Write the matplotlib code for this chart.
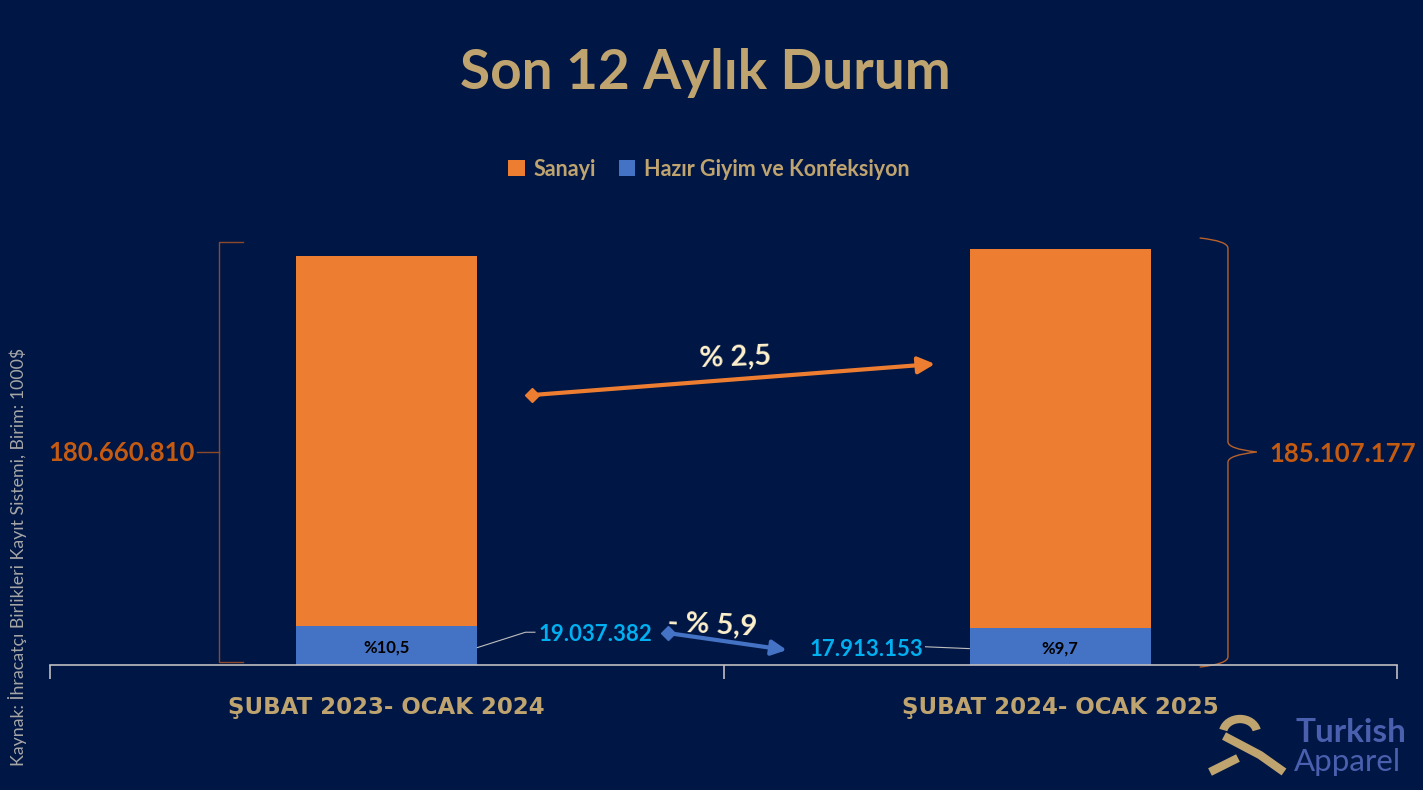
import matplotlib.pyplot as plt
from matplotlib.path import Path
from matplotlib.patches import PathPatch, Arc
import numpy as np

# data (1000 $)
periods = ['ŞUBAT 2023- OCAK 2024', 'ŞUBAT 2024- OCAK 2025']
sanayi = [180660810, 185107177]
hazir_giyim = [19037382, 17913153]
pay_labels = ['%10,5', '%9,7']
sanayi_labels = ['180.660.810', '185.107.177']
hazir_labels = ['19.037.382', '17.913.153']
change_labels = ['% 2,5', '- % 5,9']

BG = '#001645'
GOLD = '#BFA46F'
ORANGE = '#ED7D31'
BLUE = '#4472C4'
plt.rcParams['font.family'] = ['Lato', 'DejaVu Sans']

fig = plt.figure(figsize=(14.23, 7.9), dpi=100, facecolor=BG)
ax = fig.add_axes([50 / 1423, 125 / 790, 1347 / 1423, 450.6 / 790])
ax.set_facecolor(BG)

x = np.arange(len(periods))
M = 1e6
hg = np.array(hazir_giyim) / M
sn = np.array(sanayi) / M
ax.bar(x, hg, width=0.269, color=BLUE, label='Hazır Giyim ve Konfeksiyon', zorder=2)
ax.bar(x, sn, width=0.269, bottom=hg, color=ORANGE, label='Sanayi', zorder=2)
ax.set_xlim(-0.5, 1.5)
ax.set_ylim(0, 220)

for s in ['top', 'right', 'left']:
    ax.spines[s].set_visible(False)
ax.spines['bottom'].set_color('#BFBFBF')
ax.spines['bottom'].set_linewidth(1.2)
ax.set_yticks([])
ax.set_xticks(x)
ax.set_xticklabels(periods, color=GOLD, fontsize=16.5, fontweight='bold', family='DejaVu Sans')
ax.tick_params(axis='x', length=0, pad=22)
ax.set_xticks([-0.5, 0.5, 1.5], minor=True)
ax.tick_params(axis='x', which='minor', length=10, color='#BFBFBF', width=1.2)

# percent share inside blue segment
for i in x:
    ax.text(i, hg[i] / 2 - 1, pay_labels[i], ha='center', va='center',
            fontsize=12, fontweight='bold', color='black', zorder=3)

# left bracket for first total
lc = '#8C4A2A'
ax.plot([-0.2134, -0.249, -0.249, -0.2134], [206.5, 206.5, 1.5, 1.5], color=lc, lw=1, clip_on=False)
ax.plot([-0.282, -0.249], [104, 104], color=lc, lw=1, clip_on=False)
ax.text(-0.285, 103.5, sanayi_labels[0], ha='right', va='center', color='#C55A11',
        fontsize=18.5, fontweight='bold', clip_on=False)

# right curly brace for second total
bx, top, bot, mid = 1.249, 208.5, -1.0, 104
verts = [(1.207, top), (bx, top - 1.5), (bx, top - 5), (bx, mid + 5), (bx, mid + 1.5), (1.292, mid),
         (bx, mid - 1.5), (bx, mid - 5), (bx, bot + 5), (bx, bot + 1.5), (1.207, bot)]
codes = [Path.MOVETO, Path.CURVE3, Path.CURVE3, Path.LINETO, Path.CURVE3, Path.CURVE3,
         Path.CURVE3, Path.CURVE3, Path.LINETO, Path.CURVE3, Path.CURVE3]
ax.add_patch(PathPatch(Path(verts, codes), fill=False, edgecolor='#B8612A', lw=1, clip_on=False))
ax.text(1.311, 103, sanayi_labels[1], ha='left', va='center', color='#C55A11',
        fontsize=18.5, fontweight='bold', clip_on=False)

# apparel value labels with leader lines
ax.plot([0.1345, 0.206, 0.22], [8.5, 16.0, 16.0], color='#BFBFBF', lw=0.8)
ax.text(0.2257, 15.0, hazir_labels[0], ha='left', va='center', color='#00B0F0',
        fontsize=16, fontweight='bold')
ax.plot([0.8, 0.865], [8.9, 8.0], color='#BFBFBF', lw=0.8)
ax.text(0.796, 7.5, hazir_labels[1], ha='right', va='center', color='#00B0F0',
        fontsize=16, fontweight='bold')

# change arrows
ax.annotate('', xy=(0.814, 147), xytext=(0.2157, 131.8),
            arrowprops=dict(arrowstyle='-|>', color=ORANGE, lw=3, mutation_scale=25,
                            shrinkA=0, shrinkB=0))
ax.plot(0.2157, 131.8, marker='D', color=ORANGE, ms=7)
ax.text(0.518, 150, change_labels[0], ha='center', va='center', color='#FFF2CC',
        fontsize=21, fontweight='bold', rotation=2)
ax.annotate('', xy=(0.594, 7.3), xytext=(0.4176, 15.6),
            arrowprops=dict(arrowstyle='-|>', color=BLUE, lw=3, mutation_scale=22,
                            shrinkA=0, shrinkB=0))
ax.plot(0.4176, 15.6, marker='D', color=BLUE, ms=7)
ax.text(0.483, 19.5, change_labels[1], ha='center', va='center', color='#FFF2CC',
        fontsize=21, fontweight='bold', rotation=-3)

# title and legend
fig.text(705 / 1423, 1 - 73 / 790, 'Son 12 Aylık Durum', ha='center', va='center',
         color=GOLD, fontsize=39.5, fontweight='bold')
handles, labels = ax.get_legend_handles_labels()
leg = fig.legend(handles[::-1], labels[::-1], loc='center', bbox_to_anchor=(709 / 1423, 1 - 169 / 790),
                 ncol=2, frameon=False, fontsize=15.5, handlelength=0.75, handleheight=0.75,
                 handletextpad=0.4, columnspacing=1.1)
for t in leg.get_texts():
    t.set_color(GOLD)
    t.set_fontweight('bold')

# source note
fig.text(18 / 1423, 1 - 557 / 790, 'Kaynak: İhracatçı Birlikleri Kayıt Sistemi, Birim: 1000$',
         rotation=90, ha='center', va='center', color='#A6A6A6', fontsize=12.8)

# logo
lg = fig.add_axes([1200 / 1423, 0, 223 / 1423, 90 / 790])
lg.set_xlim(0, 223)
lg.set_ylim(90, 0)
lg.axis('off')
lg.add_patch(Arc((40, 33), 34, 28, theta1=190, theta2=350, color=GOLD, lw=6))
lg.plot([24, 60, 84], [36, 55, 72], color=GOLD, lw=6, solid_capstyle='butt')
lg.plot([38, 10], [58, 72], color=GOLD, lw=6, solid_capstyle='butt')
lg.text(95, 33, 'Turkish', color='#4A5FAE', fontsize=24, fontweight='bold', va='center')
lg.text(94, 62, 'Apparel', color='#4A5FAE', fontsize=22.5, va='center')

fig.savefig('out.png', dpi=100, facecolor=BG)
